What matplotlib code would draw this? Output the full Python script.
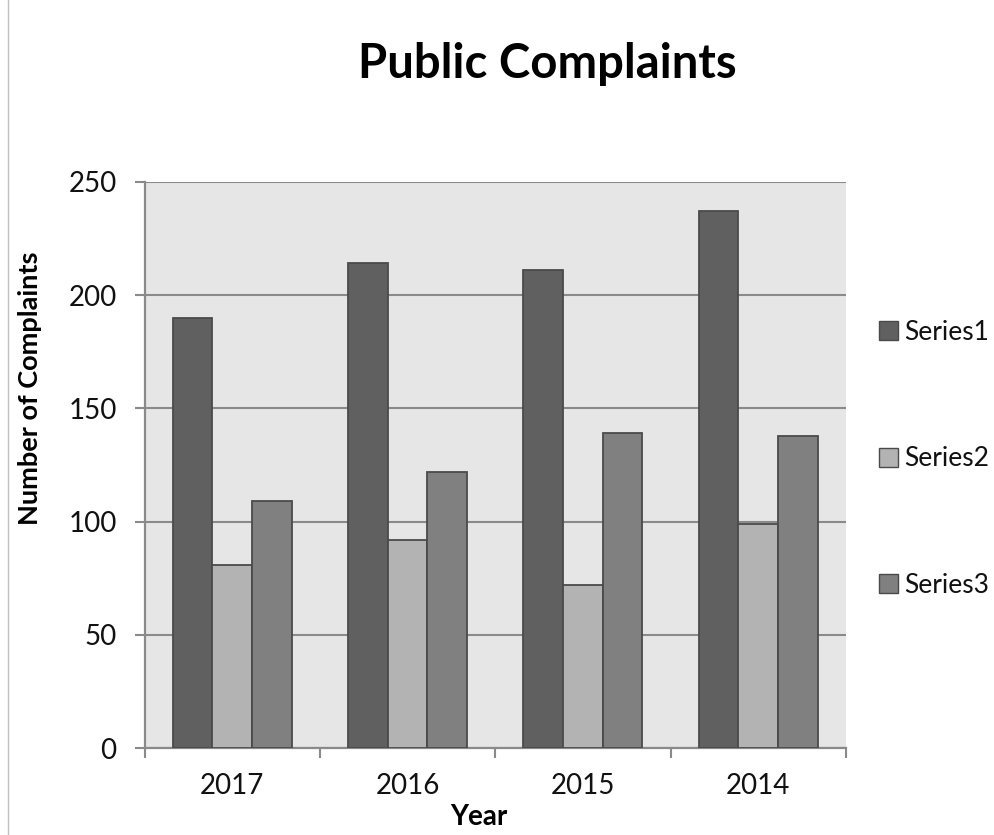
import matplotlib
matplotlib.use("Agg")
import matplotlib.pyplot as plt
from matplotlib.lines import Line2D
from matplotlib.patches import Patch
import numpy as np

plt.rcParams['font.family'] = ['Lato', 'DejaVu Sans']

years = ["2017", "2016", "2015", "2014"]
series_names = ["Series1", "Series2", "Series3"]
series1 = [190, 214, 211, 237]
series2 = [81, 92, 72, 99]
series3 = [109, 122, 139, 138]
y_ticks = [0, 50, 100, 150, 200, 250]

colors = ["#606060", "#b3b3b3", "#808080"]
edge = "#4a4a4a"
text_color = "#111111"

W, H = 994, 835
fig = plt.figure(figsize=(W / 100, H / 100), dpi=100)
ax = fig.add_axes([144.5 / W, 1 - 748.3 / H, (846 - 144.5) / W, (748.3 - 181.7) / H])
ax.set_facecolor("#e6e6e6")

x = np.arange(len(years))
bw = 0.226
for i, (vals, c) in enumerate(zip([series1, series2, series3], colors)):
    ax.bar(x + (i - 1) * bw, vals, width=bw, color=c, edgecolor=edge,
           linewidth=1.3, zorder=3)

ax.set_xlim(-0.5, len(years) - 0.5)
ax.set_ylim(0, 250)
ax.set_yticks(y_ticks)
ax.set_yticklabels([str(v) for v in y_ticks], fontsize=20, color=text_color)
ax.yaxis.grid(True, color="#8a8a8a", linewidth=1.5, zorder=1)
ax.set_axisbelow(True)

ax.set_xticks(x)
ax.set_xticklabels(years, fontsize=20, color=text_color)
ax.tick_params(axis='x', length=0, pad=18)
ax.set_xticks(np.arange(-0.5, len(years)), minor=True)
ax.tick_params(axis='x', which='minor', length=7, width=1.5, color="#8a8a8a", direction='out')
ax.tick_params(axis='y', length=7, width=1.5, color="#8a8a8a", pad=13, direction='out')

for s in ['top', 'right']:
    ax.spines[s].set_visible(False)
for s in ['left', 'bottom']:
    ax.spines[s].set_color("#8a8a8a")
    ax.spines[s].set_linewidth(1.6)

fig.text(547 / W, 1 - 78 / H, "Public Complaints", fontsize=34, fontweight='bold',
         ha='center', va='baseline', color="black")
fig.text(30 / W, 1 - 388 / H, "Number of Complaints", fontsize=19.5, fontweight='bold',
         rotation=90, ha='center', va='center', color="black")
fig.text(479 / W, 1 - 825 / H, "Year", fontsize=20, fontweight='bold',
         ha='center', va='baseline', color="black")

handles = [Patch(facecolor=c, edgecolor=edge, linewidth=1.0) for c in colors]
leg = fig.legend(handles, series_names, loc='center left',
                 bbox_to_anchor=(879 / W, 1 - 459 / H), frameon=False, fontsize=19,
                 handlelength=0.72, handleheight=0.72, handletextpad=0.25,
                 labelspacing=3.85, borderpad=0, borderaxespad=0)
for t in leg.get_texts():
    t.set_color(text_color)

fig.add_artist(Line2D([7.5 / W, 7.5 / W], [0, 1], color="#c0c0c0", linewidth=1.0))

fig.savefig("out.png", dpi=100)
